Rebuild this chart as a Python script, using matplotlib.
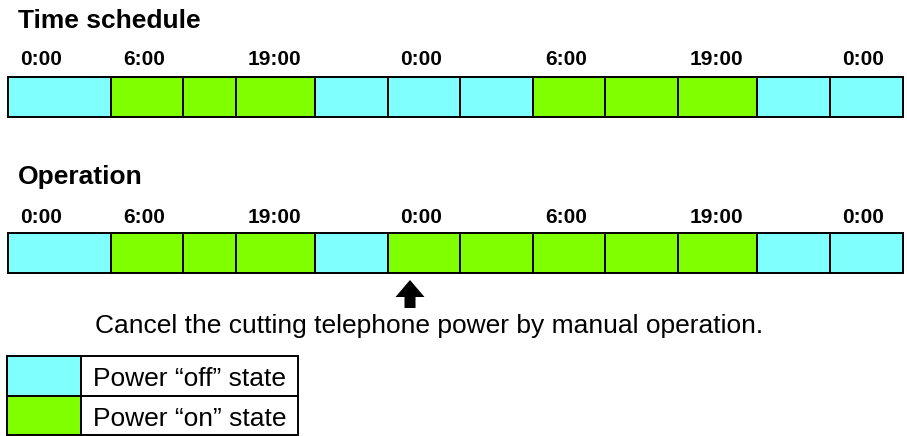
import matplotlib.pyplot as plt
import numpy as np
from matplotlib.patches import FancyArrow

plt.rcParams['font.family'] = ['Liberation Sans', 'DejaVu Sans']

# schematic time slots (edges along the bar) and power state per slot
slot_edges = [8, 111, 183, 236, 315, 388, 460, 533, 605, 678, 757, 830, 903]
schedule_state = ['off', 'on', 'on', 'on', 'off', 'off', 'off', 'on', 'on', 'on', 'off', 'off']
operation_state = ['off', 'on', 'on', 'on', 'off', 'on', 'on', 'on', 'on', 'on', 'off', 'off']
hour_labels = ['0:00', '6:00', '19:00', '0:00', '6:00', '19:00', '0:00']
hour_slots = [0, 1, 3, 5, 7, 9, 11]
legend_labels = ['Power \u201coff\u201d state', 'Power \u201con\u201d state']
legend_states = ['off', 'on']
manual_slot = 5

COLORS = {'off': '#80FFFF', 'on': '#80FF00'}

fig = plt.figure(figsize=(9.07, 4.36), dpi=100)
ax = fig.add_axes([0, 0, 1, 1])
ax.set_xlim(0, 907)
ax.set_ylim(436, 0)
ax.axis('off')

edges = np.array(slot_edges)
lefts = edges[:-1]
widths = np.diff(edges)


def draw_row(title, states, title_y, label_y, bar_y):
    ax.text(18, title_y, title, fontsize=19, fontweight='bold', va='baseline', ha='left')
    for lab, s in zip(hour_labels, hour_slots):
        ax.text(lefts[s] + 12, label_y, lab, fontsize=15, fontweight='bold',
                va='baseline', ha='left')
    ax.barh(bar_y, widths, left=lefts, height=40,
            color=[COLORS[s] for s in states], edgecolor='black', linewidth=1.4)


draw_row('Time schedule', schedule_state, 28, 65, 97)
draw_row('Operation', operation_state, 184, 223, 253)

# arrow pointing at the slot where the power cut was cancelled
ax_x = lefts[manual_slot] + 22
ax.add_patch(FancyArrow(ax_x, 308, 0, -28, width=11, head_width=29, head_length=17,
                        length_includes_head=True, color='black', linewidth=0))
ax.text(95, 333, 'Cancel the cutting telephone power by manual operation.',
        fontsize=19, va='baseline', ha='left')

# legend table
for i, (lab, st) in enumerate(zip(legend_labels, legend_states)):
    top = 356 + i * 39.5
    ax.add_patch(plt.Rectangle((7, top), 74, 39.5, facecolor=COLORS[st],
                               edgecolor='black', linewidth=1.4))
    ax.add_patch(plt.Rectangle((81, top), 217, 39.5, facecolor='white',
                               edgecolor='black', linewidth=1.4))
    ax.text(93, top + 30, lab, fontsize=19, va='baseline', ha='left')

fig.savefig('out.png', dpi=100)
